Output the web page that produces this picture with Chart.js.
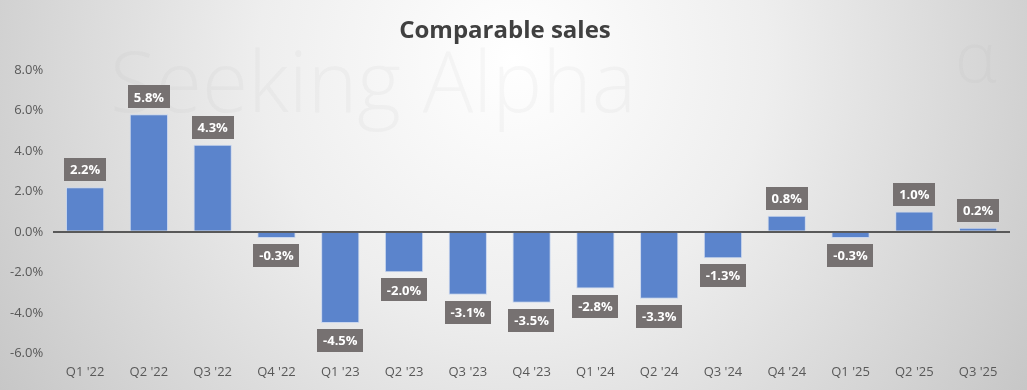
<!DOCTYPE html>
<html>
<head>
<meta charset="utf-8">
<script src="https://cdn.jsdelivr.net/npm/chart.js@4/dist/chart.umd.min.js"></script>
<style>
  html, body { margin: 0; padding: 0; background: #fff; }
  #wrap { width: 1027px; height: 390px; position: relative; }
</style>
</head>
<body>
<div id="wrap"><canvas id="chart" width="1027" height="390"></canvas></div>
<script>
"use strict";

const categories = ["Q1 '22", "Q2 '22", "Q3 '22", "Q4 '22", "Q1 '23", "Q2 '23", "Q3 '23", "Q4 '23",
  "Q1 '24", "Q2 '24", "Q3 '24", "Q4 '24", "Q1 '25", "Q2 '25", "Q3 '25"];
const compSales = [2.2, 5.8, 4.3, -0.3, -4.5, -2.0, -3.1, -3.5, -2.8, -3.3, -1.3, 0.8, -0.3, 1.0, 0.2];
const yTicks = [-6, -4, -2, 0, 2, 4, 6, 8];

const FONT = "'Open Sans', 'Noto Sans', sans-serif";

// gray radial backdrop + faint watermark
const backdrop = {
  id: "backdrop",
  beforeDraw(chart) {
    const { ctx, width, height } = chart;
    ctx.save();
    const g = ctx.createRadialGradient(width * 0.5, height * 0.15, 0, width * 0.5, height * 0.15, width * 0.62);
    g.addColorStop(0, "#ffffff");
    g.addColorStop(0.4, "#eeeeee");
    g.addColorStop(1, "#c4c4c4");
    ctx.fillStyle = g;
    ctx.fillRect(0, 0, width, height);
    ctx.font = "300 84px " + FONT;
    ctx.fillStyle = "rgba(170,170,170,0.08)";
    ctx.textBaseline = "alphabetic";
    ctx.textAlign = "left";
    ctx.fillText("Seeking Alpha", 110, 112);
    ctx.font = "300 70px " + FONT;
    ctx.fillText("\u03B1", 955, 82);
    ctx.restore();
  }
};

// dark boxed value labels
const valueBoxes = {
  id: "valueBoxes",
  afterDatasetsDraw(chart) {
    const { ctx } = chart;
    const meta = chart.getDatasetMeta(0);
    ctx.save();
    ctx.font = "bold 13px " + FONT;
    ctx.textAlign = "center";
    ctx.textBaseline = "middle";
    meta.data.forEach((bar, i) => {
      const v = compSales[i];
      const txt = v.toFixed(1) + "%";
      const w = ctx.measureText(txt).width + 12;
      const h = 23;
      const gap = 6;
      const x = bar.x;
      let top;
      if (v >= 0) top = Math.min(bar.y, bar.base) - gap - h;
      else top = Math.max(bar.y, bar.base) + gap;
      ctx.fillStyle = "#767171";
      ctx.fillRect(Math.round(x - w / 2), Math.round(top), Math.round(w), h);
      ctx.fillStyle = "#ffffff";
      ctx.fillText(txt, x, top + h / 2 + 1);
    });
    ctx.restore();
  }
};

new Chart(document.getElementById("chart"), {
  type: "bar",
  data: {
    labels: categories,
    datasets: [{
      data: compSales,
      backgroundColor: "#5b84cc",
      borderColor: "#c9d6ee",
      borderWidth: 1,
      barPercentage: 0.6,
      categoryPercentage: 1.0
    }]
  },
  options: {
    responsive: false,
    animation: false,
    layout: { padding: { left: 0, right: 17, top: 0, bottom: 7 } },
    plugins: {
      legend: { display: false },
      tooltip: { enabled: false },
      title: {
        display: true,
        text: "Comparable sales",
        color: "#404040",
        font: { family: FONT, size: 24, weight: "bold" },
        padding: { top: 17, bottom: 24 }
      }
    },
    scales: {
      x: {
        grid: { display: false },
        border: { display: false },
        ticks: { color: "#595959", font: { family: FONT, size: 13 }, padding: 3 }
      },
      y: {
        min: -6,
        max: 8,
        afterBuildTicks(scale) { scale.ticks = yTicks.map(v => ({ value: v })); },
        border: { display: false },
        grid: {
          drawTicks: false,
          color: c => (c.tick && c.tick.value === 0 ? "#595959" : "transparent"),
          lineWidth: c => (c.tick && c.tick.value === 0 ? 2 : 0)
        },
        ticks: {
          color: "#595959",
          font: { family: FONT, size: 13 },
          padding: 10,
          callback: v => v.toFixed(1) + "%"
        }
      }
    }
  },
  plugins: [backdrop, valueBoxes]
});
</script>
</body>
</html>
